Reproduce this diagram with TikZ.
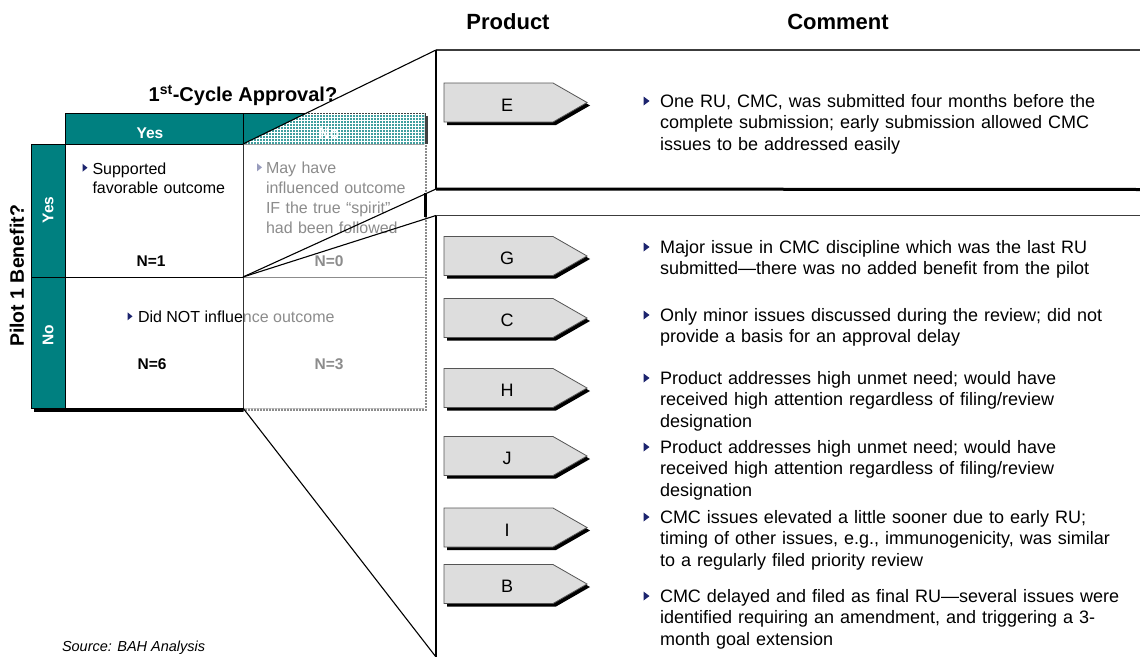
\documentclass[tikz,border=0pt]{standalone}
\usepackage{fontspec}
\setmainfont{Liberation Sans}
\definecolor{tealm}{RGB}{0,128,128}
\definecolor{navyb}{RGB}{28,36,110}
\definecolor{tagfill}{RGB}{221,221,221}
\definecolor{tagedge}{RGB}{85,85,85}
\definecolor{rulegray}{RGB}{60,60,60}
\newcommand\fsz[2]{\fontsize{#1}{#2}\selectfont}
% product tag: #1 node name, #2 centre y, #3 letter
\newcommand\prodtag[3]{%
  \fill[black] (447,#2-16.5) -- (556,#2-16.5) -- (590,#2+3) -- (556,#2+22.5) -- (447,#2+22.5) -- cycle;
  \filldraw[fill=tagfill, draw=tagedge, line width=0.8pt] (444,#2-19.5) -- (553,#2-19.5) -- (587,#2) -- (553,#2+19.5) -- (444,#2+19.5) -- cycle;
  \node[tagtext] (#1) at (507,#2+8.5) {#3};
}
\begin{document}
\begin{tikzpicture}[x=1pt,y=-1pt,
  every node/.style={inner sep=0pt, outer sep=0pt},
  cell/.style={draw=black, line width=0.9pt},
  tealcell/.style={cell, fill=tealm},
  whitecell/.style={cell, fill=white},
  hdr/.style={font=\fsz{15.5}{18}\bfseries, text=white},
  cmt/.style={anchor=north west, text width=480pt, align=left, font=\fsz{18}{21.5}},
  celltxt/.style={anchor=north west, text width=170pt, align=left, font=\fsz{16}{19.5}},
  nlabel/.style={anchor=base, font=\fsz{15.5}{18}\bfseries},
  tagtext/.style={anchor=base, font=\fsz{18}{20}},
  colhead/.style={anchor=base, font=\fsz{22}{24}\bfseries},
  tri/.pic={\fill[navyb] (0,-4.5) -- (6,0) -- (0,4.5) -- cycle;},
  trism/.pic={\fill[navyb] (0,-4) -- (5,0) -- (0,4) -- cycle;},
  zoomline/.style={draw=black, line width=1.1pt},
]
\useasboundingbox (0,0) rectangle (1140,656);
\fill[white] (0,0) rectangle (1140,656);

% ---------- decision matrix ----------
% drop shadow
\fill[black] (34,147) rectangle (68,412);
\fill[black] (68,116) rectangle (428,412);
\path[tealcell] (31,144) rectangle (65,277);
\path[tealcell] (31,277) rectangle (65,408);
\path[tealcell] (65,113) rectangle (243,144);
\path[tealcell] (243,113) rectangle (425,144);
\path[whitecell] (65,144) rectangle (243,277);
\path[whitecell] (243,144) rectangle (425,277);
\path[whitecell] (65,277) rectangle (243,408);
\path[whitecell] (243,277) rectangle (425,408);

\node[anchor=base, font=\fsz{20}{22}\bfseries] (title) at (243,101.7) {1\textsuperscript{st}-Cycle Approval?};
\node[font=\fsz{19.5}{22}\bfseries, rotate=90] (pilot) at (17,276) {Pilot 1 Benefit?};
\node[hdr, anchor=base] (hYes) at (150,138.3) {Yes};
\node[hdr, anchor=base] (hNo) at (329,138.3) {No};
\node[hdr, rotate=90] (sYes) at (48,210) {Yes};
\node[hdr, rotate=90] (sNo) at (48,335) {No};

\pic at (82.5,167.7) {trism};
\node[celltxt] (tSup) at (92.5,174-13.65) {\strut Supported\\favorable outcome};
\pic at (257,167.3) {trism};
\node[celltxt, font=\fsz{16}{20}] (tMay) at (266,173.3-14) {\strut May have\\influenced outcome\\IF the true “spirit”\\had been followed};
\pic at (127.5,316.3) {trism};
\node[anchor=base west, font=\fsz{16}{19.5}] (tDid) at (138,322.3) {Did NOT influence outcome};
\node[nlabel] (n1) at (151,266.7) {N=1};
\node[nlabel] (n0) at (329,266.7) {N=0};
\node[nlabel] (n6) at (152,369.3) {N=6};
\node[nlabel] (n3) at (329,369.3) {N=3};

% faded "No" column
\begin{scope}
  \clip (307,113) -- (429,113) -- (429,413) -- (243.6,413) -- (243.6,144) -- cycle;
  \fill[white, opacity=0.25] (240,110) rectangle (430,144);
  \fill[white, opacity=0.55] (240,144) rectangle (430,415);
\end{scope}
% fine white grid on its head and shadow edges
\begin{scope}
  \clip (307,113) -- (429,113) -- (429,144) -- (243.6,144) -- cycle
        (424.5,113) rectangle (429,413)
        (243.6,408.5) rectangle (429,413);
  \foreach \gx in {244,247,...,430} \draw[white, line width=0.5pt] (\gx,110) -- (\gx,415);
  \foreach \gy in {114,117,...,415} \draw[white, line width=0.5pt] (240,\gy) -- (430,\gy);
\end{scope}

% ---------- zoom panels ----------
\coordinate (mTop) at (243,144);
\coordinate (mMid) at (243,277);
\coordinate (mBot) at (243,408);
\coordinate (uTL) at (436,50);
\coordinate (uBL) at (436,189);
\coordinate (uTR) at (1141,50);
\coordinate (uBR) at (1141,189.5);
\coordinate (lTL) at (436,215.5);
\coordinate (lTR) at (1141,215.5);
\coordinate (lBL) at (436,657);
\coordinate (kTop) at (425,193);
\coordinate (kBot) at (425,217);

\draw[rulegray, line width=1.4pt] (uTL) -- (uTR);
\draw[black, line width=3pt] (uBL) -- (uBR);
\draw[black, line width=1.5pt] (uTL) -- (uBL);
\draw[rulegray, line width=1.2pt] (lTL) -- (lTR);
\draw[black, line width=2pt] (lTL) -- (lBL);
\draw[black, line width=3pt] (kTop) -- (kBot);

\draw[zoomline] (mTop) -- (uTL);
\draw[zoomline] (mMid) -- (uBL);
\draw[zoomline] (mMid) -- (lTL);
\draw[zoomline] (mBot) -- (lBL);

% ---------- column heads ----------
\node[colhead] (hProd) at (508,29.5) {Product};
\node[colhead] (hCom) at (838,29.5) {Comment};

% ---------- product tags ----------
\prodtag{pE}{102.5}{E}
\prodtag{pG}{256}{G}
\prodtag{pC}{318}{C}
\prodtag{pH}{388}{H}
\prodtag{pJ}{456}{J}
\prodtag{pI}{527.5}{I}
\prodtag{pB}{584}{B}

% ---------- comments ----------
\pic at (643.5,101) {tri};
\node[cmt] (cE) at (660,107-15.05) {\strut One RU, CMC, was submitted four months before the\\complete submission; early submission allowed CMC\\issues to be addressed easily};
\pic at (643.5,247) {tri};
\node[cmt] (cG) at (660,253-15.05) {\strut Major issue in CMC discipline which was the last RU\\submitted—there was no added benefit from the pilot};
\pic at (643.5,315) {tri};
\node[cmt] (cC) at (660,321-15.05) {\strut Only minor issues discussed during the review; did not\\provide a basis for an approval delay};
\pic at (643.5,378) {tri};
\node[cmt] (cH) at (660,384-15.05) {\strut Product addresses high unmet need; would have\\received high attention regardless of filing/review\\designation};
\pic at (643.5,447) {tri};
\node[cmt] (cJ) at (660,453-15.05) {\strut Product addresses high unmet need; would have\\received high attention regardless of filing/review\\designation};
\pic at (643.5,517) {tri};
\node[cmt] (cI) at (660,523-15.05) {\strut CMC issues elevated a little sooner due to early RU;\\timing of other issues, e.g., immunogenicity, was similar\\to a regularly filed priority review};
\pic at (643.5,596) {tri};
\node[cmt] (cB) at (660,602-15.05) {\strut CMC delayed and filed as final RU—several issues were\\identified requiring an amendment, and triggering a 3-\\month goal extension};

\node[anchor=base west, font=\fsz{14.5}{16}\itshape] (src) at (62,651) {Source: BAH Analysis};
\end{tikzpicture}
\end{document}
